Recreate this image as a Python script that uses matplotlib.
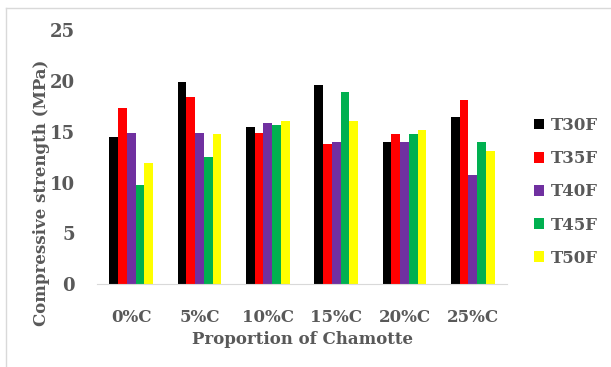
import numpy as np
import matplotlib.pyplot as plt
from matplotlib.lines import Line2D

plt.rcParams["font.family"] = "DejaVu Serif"
plt.rcParams["font.weight"] = "bold"

categories = ["0%C", "5%C", "10%C", "15%C", "20%C", "25%C"]
series = ["T30F", "T35F", "T40F", "T45F", "T50F"]
t30f = [14.45, 19.9, 15.5, 19.65, 13.95, 16.45]
t35f = [17.3, 18.45, 14.85, 13.8, 14.8, 18.1]
t40f = [14.85, 14.85, 15.9, 13.95, 13.95, 10.7]
t45f = [9.8, 12.55, 15.65, 18.95, 14.8, 13.95]
t50f = [11.9, 14.8, 16.05, 16.05, 15.2, 13.15]
colors = ["#000000", "#FF0000", "#7030A0", "#00B050", "#FFFF00"]
gray = "#595959"

fig = plt.figure(figsize=(6.11, 3.67), dpi=100)
ax = fig.add_axes([97/611, 1-284/367, 410/611, 253.75/367])

x = np.arange(len(categories))
w = 0.128
for i, (name, vals) in enumerate(zip(series, [t30f, t35f, t40f, t45f, t50f])):
    ax.bar(x + (i - 2) * w, vals, width=w, color=colors[i], label=name)

ax.set_xlim(-0.5, 5.5)
ax.set_ylim(0, 25)
ax.set_yticks([0, 5, 10, 15, 20, 25])
ax.set_xticks(x)
ax.set_xticklabels(categories)
ax.tick_params(axis="both", length=0, labelsize=12, labelcolor=gray)
ax.tick_params(axis="y", pad=16, labelsize=13)
ax.tick_params(axis="x", pad=18)
for s in ["top", "right", "left"]:
    ax.spines[s].set_visible(False)
ax.spines["bottom"].set_color("#d9d9d9")

fig.text(42/611, 1-193/367, "Compressive strength (MPa)", rotation=90,
         ha="center", va="center", fontsize=12, color=gray)
fig.text(303/611, 1-340/367, "Proportion of Chamotte", ha="center",
         va="center", fontsize=12, color=gray)

leg = ax.legend(loc="upper left", bbox_to_anchor=(519/611, 1-102/367),
                bbox_transform=fig.transFigure, frameon=False, fontsize=12,
                handlelength=0.6, handleheight=0.6, handletextpad=0.4,
                labelspacing=0.97)
for t in leg.get_texts():
    t.set_color(gray)

fig.add_artist(Line2D([6/611, 1], [1-8/367, 1-8/367], color="#d9d9d9", lw=1))
fig.add_artist(Line2D([6/611, 6/611], [0, 1-8/367], color="#d9d9d9", lw=1))

fig.savefig("out.png", dpi=100)
